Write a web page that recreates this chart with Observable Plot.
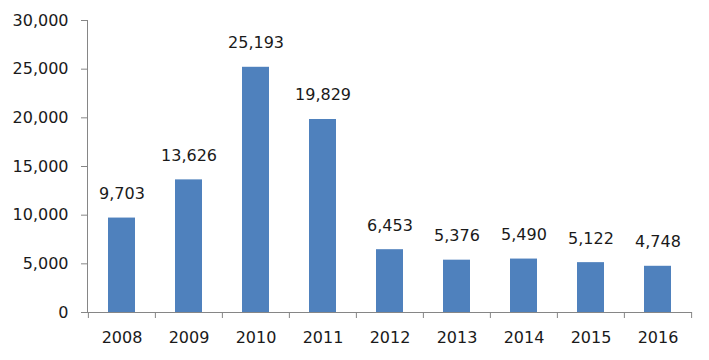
<!DOCTYPE html>
<html>
<head>
<meta charset="utf-8">
<script src="https://cdn.jsdelivr.net/npm/d3@7"></script>
<script src="https://cdn.jsdelivr.net/npm/@observablehq/plot@0.6"></script>
<style>
  html, body { margin: 0; padding: 0; background: #fff; }
  svg { font-family: "DejaVu Sans", sans-serif; }
</style>
</head>
<body>
<div id="chart"></div>
<script>
const years = ["2008", "2009", "2010", "2011", "2012", "2013", "2014", "2015", "2016"];
const values = [9703, 13626, 25193, 19829, 6453, 5376, 5490, 5122, 4748];
const yTicks = [0, 5000, 10000, 15000, 20000, 25000, 30000];

const data = years.map((y, i) => ({ year: y, value: values[i] }));

const W = 709, H = 360, mL = 87, mR = 17, mT = 20, mB = 48;
const step = (W - mL - mR) / years.length;
const axisColor = "#868686";

const chart = Plot.plot({
  width: W,
  height: H,
  marginLeft: mL,
  marginRight: mR,
  marginTop: mT,
  marginBottom: mB,
  style: { fontSize: "16px", fontFamily: "'DejaVu Sans', sans-serif", color: "#1a1a1a", background: "#fff" },
  x: { domain: years, paddingInner: 0.6, paddingOuter: 0.3, label: null },
  y: { domain: [0, 30000], label: null },
  marks: [
    Plot.barY(data, { x: "year", y: "value", fill: "#4F81BD" }),
    Plot.text(data, { x: "year", y: "value", text: d => d3.format(",")(d.value), lineAnchor: "bottom", dy: -19, fontSize: 16, fill: "#1a1a1a" }),
    Plot.ruleY([0], { stroke: axisColor, strokeWidth: 1 }),
    Plot.frame({ anchor: "left", stroke: axisColor }),
    Plot.ruleX(years, { x: d => d, dx: -step / 2, y1: 0, y2: 0, stroke: axisColor, insetBottom: -6 }),
    Plot.ruleX([years[years.length - 1]], { x: d => d, dx: step / 2, y1: 0, y2: 0, stroke: axisColor, insetBottom: -6 }),
    Plot.axisY({ ticks: yTicks, tickFormat: d3.format(","), tickSize: 6, tickPadding: 13, stroke: axisColor, fontSize: 16, fill: "#1a1a1a" }),
    Plot.axisX({ tickSize: 0, tickPadding: 19, fontSize: 16, fill: "#1a1a1a" })
  ]
});
document.getElementById("chart").appendChild(chart);
</script>
</body>
</html>
